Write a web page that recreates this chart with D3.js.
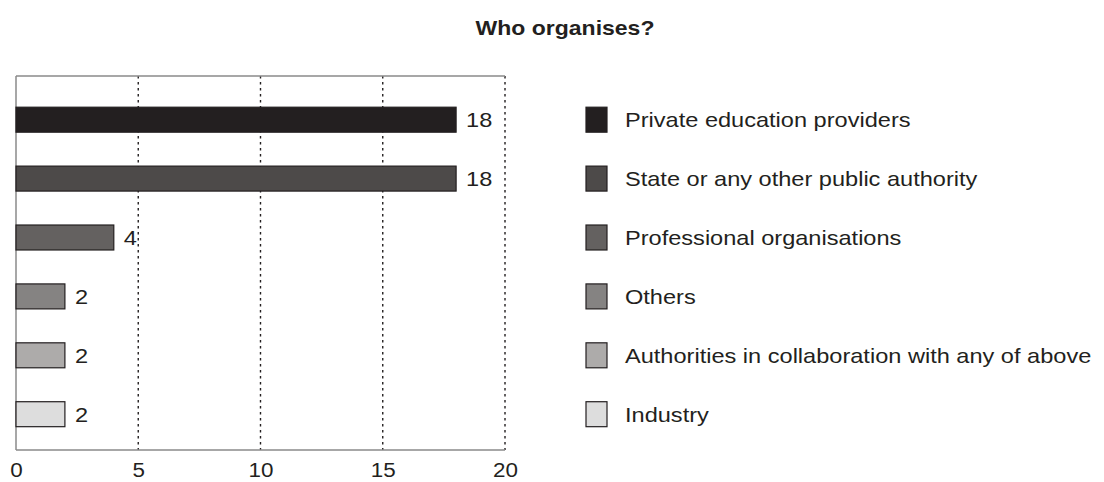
<!DOCTYPE html>
<html>
<head>
<meta charset="utf-8">
<script src="https://cdn.jsdelivr.net/npm/d3@7"></script>
<style>
  html, body { margin: 0; padding: 0; background: #fff; }
  svg { display: block; }
  text { font-family: "Liberation Sans", Arial, sans-serif; fill: #231f20; }
</style>
</head>
<body>
<svg id="chart" width="1104" height="482"></svg>
<script>
// Who organises the courses: number of responses per organiser type
const categories = [
  "Private education providers",
  "State or any other public authority",
  "Professional organisations",
  "Others",
  "Authorities in collaboration with any of above",
  "Industry"
];
const counts = [18, 18, 4, 2, 2, 2];
const fills = ["#231f20", "#4d4a49", "#646160", "#858382", "#adabaa", "#dddddd"];
const xTicks = [0, 5, 10, 15, 20];
const title = "Who organises?";

const svg = d3.select("#chart");

const plot = { left: 16, right: 505, top: 76, bottom: 450 };
// Wide letterforms: text is drawn slightly stretched horizontally
const stretch = "scale(1.15,1)";

const x = d3.scaleLinear().domain([0, 20]).range([plot.left, plot.right]);
const y = d3.scaleBand()
  .domain(categories)
  .range([90.25, 443.65])
  .paddingInner(0.576)
  .paddingOuter(0.288);

// Title
svg.append("text")
  .attr("transform", `translate(565,35) ${stretch}`)
  .attr("text-anchor", "middle")
  .style("font-weight", "bold")
  .style("font-size", "20px")
  .text(title);

// Dotted vertical gridlines
svg.append("g")
  .selectAll("line")
  .data(xTicks.filter(d => d > 0))
  .join("line")
  .attr("x1", d => x(d))
  .attr("x2", d => x(d))
  .attr("y1", plot.top)
  .attr("y2", plot.bottom)
  .attr("stroke", "#231f20")
  .attr("stroke-width", 1.4)
  .attr("stroke-dasharray", "2.5,3.5");

// Frame: top, left and bottom edges
const frame = svg.append("g").attr("stroke", "#8a8a8a").attr("stroke-width", 1.5);
frame.append("line").attr("x1", plot.left).attr("x2", plot.right).attr("y1", plot.top).attr("y2", plot.top);
frame.append("line").attr("x1", plot.left).attr("x2", plot.left).attr("y1", plot.top).attr("y2", plot.bottom);
frame.append("line").attr("x1", plot.left).attr("x2", plot.right).attr("y1", plot.bottom).attr("y2", plot.bottom);

// Bars
svg.append("g")
  .selectAll("rect")
  .data(categories)
  .join("rect")
  .attr("x", x(0))
  .attr("y", d => y(d))
  .attr("width", (d, i) => x(counts[i]) - x(0))
  .attr("height", y.bandwidth())
  .attr("fill", (d, i) => fills[i])
  .attr("stroke", "#231f20")
  .attr("stroke-width", 1.2);

// Value labels
svg.append("g")
  .selectAll("text")
  .data(categories)
  .join("text")
  .attr("transform", (d, i) => `translate(${x(counts[i]) + 10},${y(d) + y.bandwidth() / 2 + 7.5}) ${stretch}`)
  .style("font-size", "20.5px")
  .text((d, i) => counts[i]);

// X axis tick labels
const xAxis = d3.axisBottom(x).tickValues(xTicks).tickSize(0).tickPadding(0);
const gx = svg.append("g")
  .attr("transform", `translate(0,${plot.bottom + 13})`)
  .call(xAxis);
gx.select(".domain").remove();
gx.selectAll("text")
  .attr("dy", "0.71em")
  .attr("transform", stretch)
  .style("font-size", "19.5px")
  .style("font-family", "'Liberation Sans', Arial, sans-serif")
  .attr("fill", "#231f20");

// Legend
const legend = svg.append("g")
  .selectAll("g")
  .data(categories)
  .join("g")
  .attr("transform", d => `translate(586,${y(d)})`);

legend.append("rect")
  .attr("width", 21)
  .attr("height", y.bandwidth())
  .attr("fill", (d, i) => fills[i])
  .attr("stroke", "#231f20")
  .attr("stroke-width", 1.2);

legend.append("text")
  .attr("transform", `translate(39,${y.bandwidth() / 2 + 7.5}) ${stretch}`)
  .style("font-size", "20.5px")
  .text(d => d);
</script>
</body>
</html>
